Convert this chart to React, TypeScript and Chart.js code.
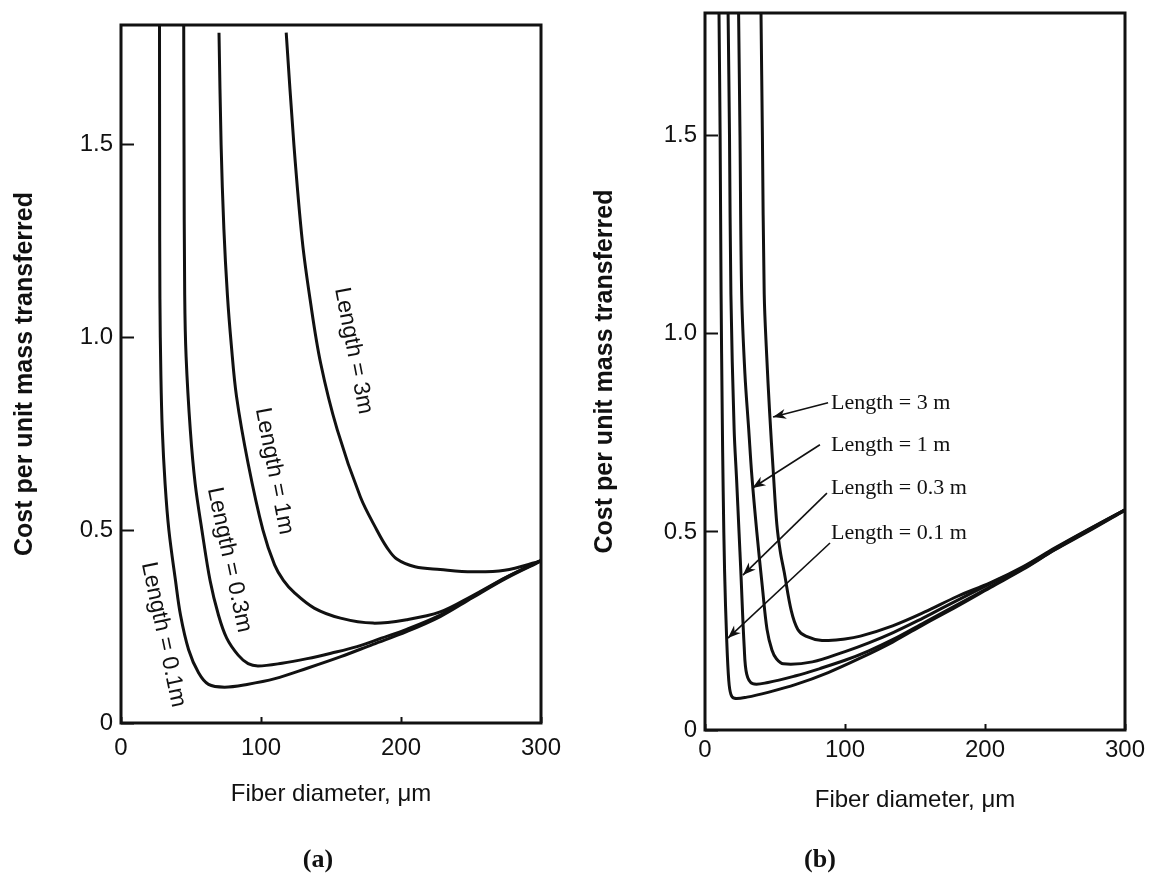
import React, { useEffect, useRef } from "react";
import { Chart, registerables } from "chart.js";

Chart.register(...registerables);

// ---------- Panel (a) data ----------
const a01X = [27.5, 27.6, 27.8, 28.5, 29.5, 31.5, 34.2, 38.9, 42.5, 48.3, 55.4, 62.5, 74, 90, 110, 133, 157, 180, 204, 228, 251, 275, 300];
const a01Y = [1.81, 1.4, 1.1, 0.9, 0.76, 0.62, 0.5, 0.37, 0.28, 0.19, 0.13, 0.1, 0.093, 0.1, 0.115, 0.142, 0.172, 0.204, 0.237, 0.276, 0.325, 0.375, 0.42];

const a03X = [44.8, 45, 45.5, 46.5, 49.5, 53, 57.8, 63.7, 69.6, 75.5, 83.7, 90.8, 98, 115, 133, 150, 168.6, 186, 204, 228, 251, 275, 300];
const a03Y = [1.81, 1.5, 1.11, 0.95, 0.76, 0.62, 0.5, 0.368, 0.28, 0.22, 0.176, 0.154, 0.148, 0.155, 0.167, 0.181, 0.198, 0.22, 0.243, 0.28, 0.327, 0.377, 0.421];

const a1X = [70, 71.5, 73.5, 76, 78.8, 82.5, 90.8, 101.4, 109.7, 116, 123.8, 138, 156.8, 180, 204, 228, 251, 275, 300];
const a1Y = [1.79, 1.5, 1.28, 1.11, 0.98, 0.847, 0.673, 0.5, 0.41, 0.37, 0.338, 0.298, 0.272, 0.259, 0.268, 0.288, 0.33, 0.378, 0.422];

const a3X = [118, 123.5, 129.5, 135, 142.5, 154.5, 171, 182.8, 190, 197, 210, 228, 251, 274, 300];
const a3Y = [1.79, 1.5, 1.25, 1.1, 0.935, 0.76, 0.586, 0.5, 0.455, 0.425, 0.405, 0.398, 0.392, 0.396, 0.42];

// ---------- Panel (b) data ----------
const b01X = [10, 10.8, 11.5, 12.3, 13, 14, 15.5, 17, 18.5, 21, 30, 45, 65, 88, 110, 134, 157, 180, 204, 227, 250, 273, 300];
const b01Y = [1.81, 1.5, 1.1, 0.8, 0.6, 0.4, 0.228, 0.124, 0.09, 0.08, 0.083, 0.095, 0.115, 0.145, 0.18, 0.222, 0.268, 0.312, 0.36, 0.405, 0.455, 0.5, 0.555];

const b03X = [16.5, 17.5, 18.5, 20.8, 22.6, 24.3, 25.6, 28, 29.8, 34, 45, 65, 82, 100, 117, 134, 157, 180, 204, 227, 250, 273, 300];
const b03Y = [1.81, 1.5, 1.1, 0.76, 0.63, 0.5, 0.4, 0.21, 0.141, 0.117, 0.12, 0.137, 0.155, 0.176, 0.2, 0.228, 0.272, 0.316, 0.362, 0.407, 0.456, 0.502, 0.555];

const b1X = [24, 25, 26.2, 28.5, 31.2, 33.5, 37, 41, 44.3, 47.8, 51, 56, 76.7, 100, 117, 134.4, 152, 169, 190, 210, 227, 250, 273, 300];
const b1Y = [1.81, 1.5, 1.1, 0.9, 0.76, 0.64, 0.5, 0.36, 0.254, 0.202, 0.18, 0.167, 0.172, 0.198, 0.22, 0.246, 0.276, 0.307, 0.345, 0.38, 0.41, 0.458, 0.504, 0.556];

const b3X = [40, 41, 42.3, 44, 46.2, 48.8, 51.3, 53.8, 56.5, 61.7, 66.3, 72, 83.6, 100, 111, 134, 157, 180, 204, 227, 250, 273, 300];
const b3Y = [1.81, 1.5, 1.1, 0.95, 0.8, 0.65, 0.52, 0.45, 0.4, 0.3, 0.254, 0.237, 0.226, 0.23, 0.237, 0.263, 0.298, 0.337, 0.372, 0.412, 0.46, 0.505, 0.556];

// ---------- Axes / text ----------
const xMin = 0;
const xMax = 300;
const xStep = 100;
const yMin = 0;
const yMax = 1.81;
const yStep = 0.5;
const xTitle = "Fiber diameter, \u03bcm";
const yTitle = "Cost per unit mass transferred";
const panelLabels = ["(a)", "(b)"];

const labelsA = [
  { text: "Length = 3m", x: 166, y: 0.965, angle: 79 },
  { text: "Length = 1m", x: 109.4, y: 0.653, angle: 79 },
  { text: "Length = 0.3m", x: 77.3, y: 0.423, angle: 78 },
  { text: "Length = 0.1m", x: 30.2, y: 0.229, angle: 78 },
];

const labelsB = [
  { text: "Length = 3 m", tx: 90, ty: 0.826, fromX: 87.9, fromY: 0.826, toX: 48.6, toY: 0.79 },
  { text: "Length = 1 m", tx: 90, ty: 0.72, fromX: 82.1, fromY: 0.72, toX: 33.9, toY: 0.611 },
  { text: "Length = 0.3 m", tx: 90, ty: 0.611, fromX: 87.1, fromY: 0.598, toX: 27.1, toY: 0.391 },
  { text: "Length = 0.1 m", tx: 90, ty: 0.497, fromX: 89.3, fromY: 0.472, toX: 16.4, toY: 0.232 },
];

const INK = "#111111";
const SANS = '"Liberation Sans", Arial, Helvetica, sans-serif';
const SERIF = '"Liberation Serif", "Times New Roman", serif';

const toPts = (xs: number[], ys: number[]) => xs.map((x, i) => ({ x, y: ys[i] }));

const framePlugin = {
  id: "frame",
  afterDatasetsDraw(chart: any) {
    const { ctx, chartArea: a } = chart;
    ctx.save();
    ctx.strokeStyle = INK;
    ctx.lineWidth = 3;
    ctx.strokeRect(a.left, a.top, a.right - a.left, a.bottom - a.top);
    ctx.restore();
  },
};

const rotatedLabelsPlugin = (items: typeof labelsA) => ({
  id: "rotLabels",
  afterDatasetsDraw(chart: any) {
    const { ctx, scales } = chart;
    ctx.save();
    ctx.font = `23px ${SANS}`;
    ctx.fillStyle = INK;
    ctx.textAlign = "center";
    ctx.textBaseline = "middle";
    for (const it of items) {
      ctx.save();
      ctx.translate(scales.x.getPixelForValue(it.x), scales.y.getPixelForValue(it.y));
      ctx.rotate((it.angle * Math.PI) / 180);
      ctx.fillText(it.text, 0, 0);
      ctx.restore();
    }
    ctx.restore();
  },
});

const arrowLabelsPlugin = (items: typeof labelsB) => ({
  id: "arrowLabels",
  afterDatasetsDraw(chart: any) {
    const { ctx, scales } = chart;
    const sx = scales.x;
    const sy = scales.y;
    ctx.save();
    ctx.fillStyle = INK;
    ctx.strokeStyle = INK;
    ctx.font = `22px ${SERIF}`;
    ctx.textAlign = "left";
    ctx.textBaseline = "middle";
    for (const it of items) {
      ctx.fillText(it.text, sx.getPixelForValue(it.tx), sy.getPixelForValue(it.ty));
      const x1 = sx.getPixelForValue(it.fromX);
      const y1 = sy.getPixelForValue(it.fromY);
      const x2 = sx.getPixelForValue(it.toX);
      const y2 = sy.getPixelForValue(it.toY);
      ctx.lineWidth = 1.6;
      ctx.beginPath();
      ctx.moveTo(x1, y1);
      ctx.lineTo(x2, y2);
      ctx.stroke();
      const ang = Math.atan2(y2 - y1, x2 - x1);
      const L = 13;
      const W = 5;
      ctx.beginPath();
      ctx.moveTo(x2, y2);
      ctx.lineTo(x2 - L * Math.cos(ang) + W * Math.sin(ang), y2 - L * Math.sin(ang) - W * Math.cos(ang));
      ctx.lineTo(x2 - L * 0.7 * Math.cos(ang), y2 - L * 0.7 * Math.sin(ang));
      ctx.lineTo(x2 - L * Math.cos(ang) - W * Math.sin(ang), y2 - L * Math.sin(ang) + W * Math.cos(ang));
      ctx.closePath();
      ctx.fill();
    }
    ctx.restore();
  },
});

const zeroPad = (s: any) => {
  s.paddingTop = 0;
  s.paddingBottom = 0;
  s.paddingLeft = 0;
  s.paddingRight = 0;
};

function makeConfig(series: { x: number[]; y: number[] }[], cfg: any, plugin: any) {
  return {
    type: "line" as const,
    data: {
      datasets: series.map((s) => ({
        data: toPts(s.x, s.y),
        borderColor: INK,
        borderWidth: 3,
        pointRadius: 0,
        fill: false,
        tension: 0.35,
      })),
    },
    options: {
      responsive: false,
      maintainAspectRatio: false,
      animation: false as const,
      layout: { padding: { left: 0, top: cfg.top, right: cfg.right, bottom: cfg.bottom } },
      plugins: { legend: { display: false }, tooltip: { enabled: false }, title: { display: false } },
      scales: {
        x: {
          type: "linear" as const,
          position: "bottom" as const,
          min: xMin,
          max: xMax,
          afterFit: (s: any) => {
            s.height = cfg.xH;
            zeroPad(s);
          },
          ticks: {
            stepSize: xStep,
            includeBounds: false,
            autoSkip: false,
            maxRotation: 0,
            color: INK,
            padding: cfg.xPad,
            font: { family: SANS, size: 24 },
          },
          grid: { drawOnChartArea: false, tickLength: -6, tickWidth: 2, color: INK },
          border: { display: false },
          title: { display: true, text: xTitle, color: INK, font: { family: SANS, size: 24 }, padding: 0 },
        },
        y: {
          type: "linear" as const,
          min: yMin,
          max: yMax,
          afterFit: (s: any) => {
            s.width = cfg.yW;
            zeroPad(s);
          },
          ticks: {
            stepSize: yStep,
            includeBounds: false,
            color: INK,
            padding: 21,
            font: { family: SANS, size: 24 },
            callback: (v: any) => (Number(v) === 0 ? "0" : Number(v).toFixed(1)),
          },
          grid: { drawOnChartArea: false, tickLength: -13, tickWidth: 2, color: INK },
          border: { display: false },
          title: {
            display: true,
            text: yTitle,
            color: INK,
            font: { family: SANS, size: 25, weight: "bold" as const },
            padding: { top: 10, bottom: 0 },
          },
        },
      },
    },
    plugins: [framePlugin, plugin],
  };
}

export default function App() {
  const refA = useRef<HTMLCanvasElement | null>(null);
  const refB = useRef<HTMLCanvasElement | null>(null);

  useEffect(() => {
    const seriesA = [
      { x: a01X, y: a01Y },
      { x: a03X, y: a03Y },
      { x: a1X, y: a1Y },
      { x: a3X, y: a3Y },
    ];
    const seriesB = [
      { x: b01X, y: b01Y },
      { x: b03X, y: b03Y },
      { x: b1X, y: b1Y },
      { x: b3X, y: b3Y },
    ];
    const chartA = new Chart(
      refA.current as HTMLCanvasElement,
      makeConfig(seriesA, { top: 25, right: 39, bottom: 84, xH: 86, yW: 121, xPad: 17 }, rotatedLabelsPlugin(labelsA)) as any
    );
    const chartB = new Chart(
      refB.current as HTMLCanvasElement,
      makeConfig(seriesB, { top: 13, right: 34, bottom: 78, xH: 85, yW: 125, xPad: 12 }, arrowLabelsPlugin(labelsB)) as any
    );
    return () => {
      chartA.destroy();
      chartB.destroy();
    };
  }, []);

  const panelStyle: React.CSSProperties = {
    position: "absolute",
    top: 843,
    width: 80,
    textAlign: "center",
    fontFamily: SERIF,
    fontWeight: "bold",
    fontSize: 26,
    color: INK,
    lineHeight: "32px",
  };

  return (
    <div style={{ position: "absolute", left: 0, top: 0, width: 1159, height: 893, background: "#fff", overflow: "hidden" }}>
      <canvas ref={refA} width={580} height={893} style={{ position: "absolute", left: 0, top: 0, width: 580, height: 893 }} />
      <canvas ref={refB} width={579} height={893} style={{ position: "absolute", left: 580, top: 0, width: 579, height: 893 }} />
      <div style={{ ...panelStyle, left: 278 }}>{panelLabels[0]}</div>
      <div style={{ ...panelStyle, left: 780 }}>{panelLabels[1]}</div>
    </div>
  );
}
